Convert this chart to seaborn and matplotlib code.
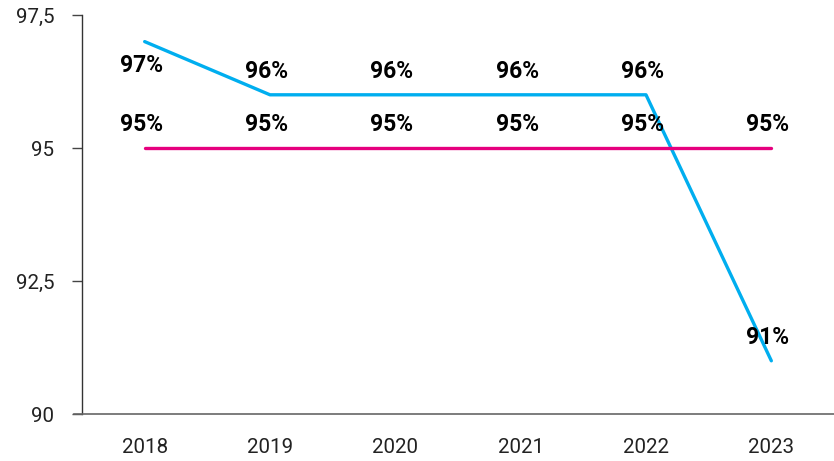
import matplotlib
matplotlib.use("Agg")
import matplotlib.pyplot as plt
import seaborn as sns
import pandas as pd

years = ["2018", "2019", "2020", "2021", "2022", "2023"]
actual = [97, 96, 96, 96, 96, 91]
target = [95, 95, 95, 95, 95, 95]
y_ticks = [90, 92.5, 95, 97.5]
y_tick_labels = ["90", "92,5", "95", "97,5"]

BLUE = "#00AEEF"
PINK = "#E6007E"

sns.set_theme(style="white")
plt.rcParams["font.family"] = ["Roboto", "DejaVu Sans"]

df = pd.DataFrame({"year": years, "actual": actual, "target": target})
df["x"] = range(len(years))

fig = plt.figure(figsize=(8.34, 4.61), dpi=100)
ax = fig.add_axes([82 / 834, 1 - 414 / 461, 752 / 834, 399 / 461])

sns.lineplot(data=df, x="x", y="actual", ax=ax, color=BLUE, linewidth=2.4)
sns.lineplot(data=df, x="x", y="target", ax=ax, color=PINK, linewidth=2.4)

label_kw = dict(textcoords="offset points", ha="center", va="center",
                fontsize=16.5, fontweight="bold", color="black")
for i, (a, t) in enumerate(zip(actual, target)):
    # first point's label sits below the line
    dy = -17 if i == 0 else 16.5
    ax.annotate(f"{a}%", (i, a), xytext=(-2.5, dy), **label_kw)
    ax.annotate(f"{t}%", (i, t), xytext=(-2.5, 17), **label_kw)

ax.set_xlim(-0.5, 5.5)
ax.set_ylim(90, 97.5)
ax.set_xticks(df["x"])
ax.set_xticklabels(years)
ax.set_yticks(y_ticks)
ax.set_yticklabels(y_tick_labels)
ax.set_xlabel("")
ax.set_ylabel("")

ax.tick_params(axis="y", length=7, width=1, color="#444444", labelsize=14.8,
               labelcolor="#222222", pad=13, left=True)
ax.tick_params(axis="x", length=0, labelsize=14.8, labelcolor="#222222", pad=17)

for side in ["top", "right"]:
    ax.spines[side].set_visible(False)
ax.spines["left"].set_color("#333333")
ax.spines["left"].set_linewidth(1)
ax.spines["bottom"].set_color("#666666")
ax.spines["bottom"].set_linewidth(1.2)
ax.spines["bottom"].set_bounds(-0.56, 5.5)
ax.spines["bottom"].set_clip_on(False)

fig.savefig("out.png", dpi=100)
